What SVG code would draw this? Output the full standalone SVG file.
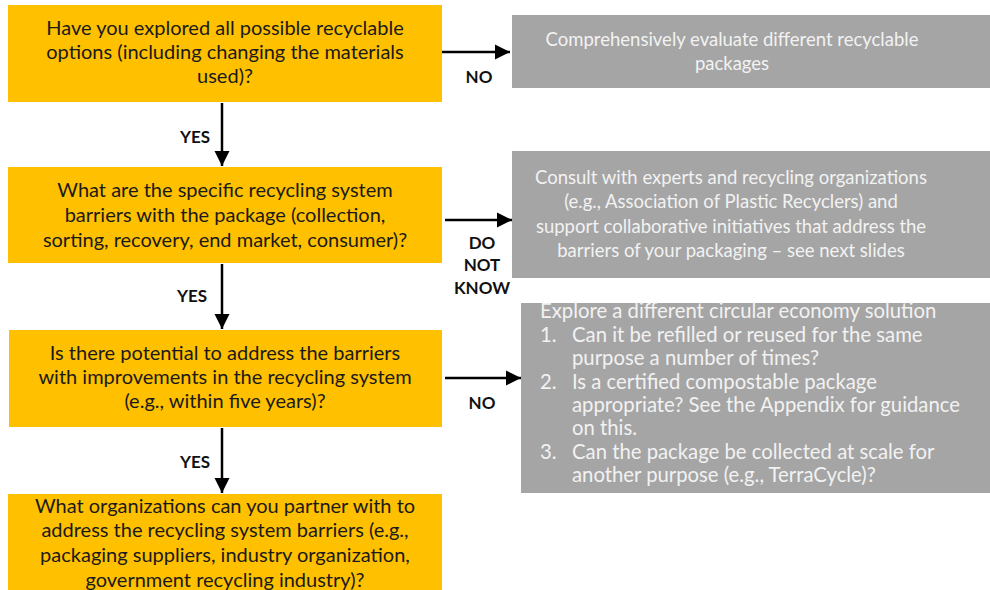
<svg xmlns="http://www.w3.org/2000/svg" width="990" height="590" viewBox="0 0 990 590">
<style>
.q{fill:#FFC000}
.g{fill:#A5A5A5}
.qt{font-family:Lato,"Liberation Sans",sans-serif;font-size:20px;fill:#1a1a1a;text-anchor:middle}
.gt{font-family:Lato,"Liberation Sans",sans-serif;font-size:18.5px;fill:#F2F2F2;text-anchor:middle}
.lt{font-family:Lato,"Liberation Sans",sans-serif;font-size:20.3px;fill:#F2F2F2}
.lb{font-family:Lato,"Liberation Sans",sans-serif;font-size:17px;font-weight:bold;fill:#111;text-anchor:middle}
.c{stroke:#000;stroke-width:2.5;fill:none}
</style>
<defs>
<marker id="ah" viewBox="0 0 10 10" refX="10" refY="5" markerWidth="6" markerHeight="6.4" markerUnits="strokeWidth" orient="auto">
<path d="M0,0 L10,5 L0,10 z" fill="#000"/>
</marker>
</defs>
<g id="connectors">
<line class="c" x1="442" y1="52" x2="510" y2="52" marker-end="url(#ah)"/>
<line class="c" x1="445" y1="220" x2="512" y2="220" marker-end="url(#ah)"/>
<line class="c" x1="445" y1="378" x2="521" y2="378" marker-end="url(#ah)"/>
<line class="c" x1="222" y1="103" x2="222" y2="166" marker-end="url(#ah)"/>
<line class="c" x1="222" y1="264" x2="222" y2="329" marker-end="url(#ah)"/>
<line class="c" x1="222" y1="428" x2="222" y2="493" marker-end="url(#ah)"/>
<text class="lb" x="479" y="83">NO</text>
<text class="lb" x="195" y="143">YES</text>
<text class="lb" x="482" y="249">DO</text>
<text class="lb" x="482" y="271">NOT</text>
<text class="lb" x="482" y="294">KNOW</text>
<text class="lb" x="192" y="302">YES</text>
<text class="lb" x="482" y="409">NO</text>
<text class="lb" x="195" y="468">YES</text>
</g>
<g id="q1">
<rect class="q" x="8" y="5" width="434" height="97"/>
<text class="qt" x="225" y="35">Have you explored all possible recyclable</text>
<text class="qt" x="225" y="59">options (including changing the materials</text>
<text class="qt" x="225" y="83">used)?</text>
</g>
<g id="q2">
<rect class="q" x="8" y="167" width="434" height="96"/>
<text class="qt" x="225" y="197">What are the specific recycling system</text>
<text class="qt" x="225" y="222">barriers with the package (collection,</text>
<text class="qt" x="225" y="247">sorting, recovery, end market, consumer)?</text>
</g>
<g id="q3">
<rect class="q" x="9" y="330" width="433" height="97"/>
<text class="qt" x="225" y="360">Is there potential to address the barriers</text>
<text class="qt" x="225" y="384">with improvements in the recycling system</text>
<text class="qt" x="225" y="408">(e.g., within five years)?</text>
</g>
<g id="q4">
<rect class="q" x="8" y="494" width="434" height="96"/>
<text class="qt" x="225" y="513">What organizations can you partner with to</text>
<text class="qt" x="225" y="537">address the recycling system barriers (e.g.,</text>
<text class="qt" x="225" y="562">packaging suppliers, industry organization,</text>
<text class="qt" x="225" y="587">government recycling industry)?</text>
</g>
<g id="a1">
<rect class="g" x="512" y="15" width="478" height="73"/>
<text class="gt" x="732" y="46">Comprehensively evaluate different recyclable</text>
<text class="gt" x="732" y="70">packages</text>
</g>
<g id="a2">
<rect class="g" x="512" y="151" width="478" height="127"/>
<text class="gt" x="731" y="184">Consult with experts and recycling organizations</text>
<text class="gt" x="731" y="208">(e.g., Association of Plastic Recyclers) and</text>
<text class="gt" x="731" y="233">support collaborative initiatives that address the</text>
<text class="gt" x="731" y="257">barriers of your packaging – see next slides</text>
</g>
<g id="a3">
<rect class="g" x="521" y="303" width="469" height="190"/>
<text class="lt" x="540" y="318">Explore a different circular economy solution</text>
<text class="lt" x="540" y="342">1.</text>
<text class="lt" x="572" y="342">Can it be refilled or reused for the same</text>
<text class="lt" x="572" y="365">purpose a number of times?</text>
<text class="lt" x="540" y="389">2.</text>
<text class="lt" x="572" y="389">Is a certified compostable package</text>
<text class="lt" x="572" y="412">appropriate? See the Appendix for guidance</text>
<text class="lt" x="572" y="435">on this.</text>
<text class="lt" x="540" y="459">3.</text>
<text class="lt" x="572" y="459">Can the package be collected at scale for</text>
<text class="lt" x="572" y="482">another purpose (e.g., TerraCycle)?</text>
</g>
</svg>
